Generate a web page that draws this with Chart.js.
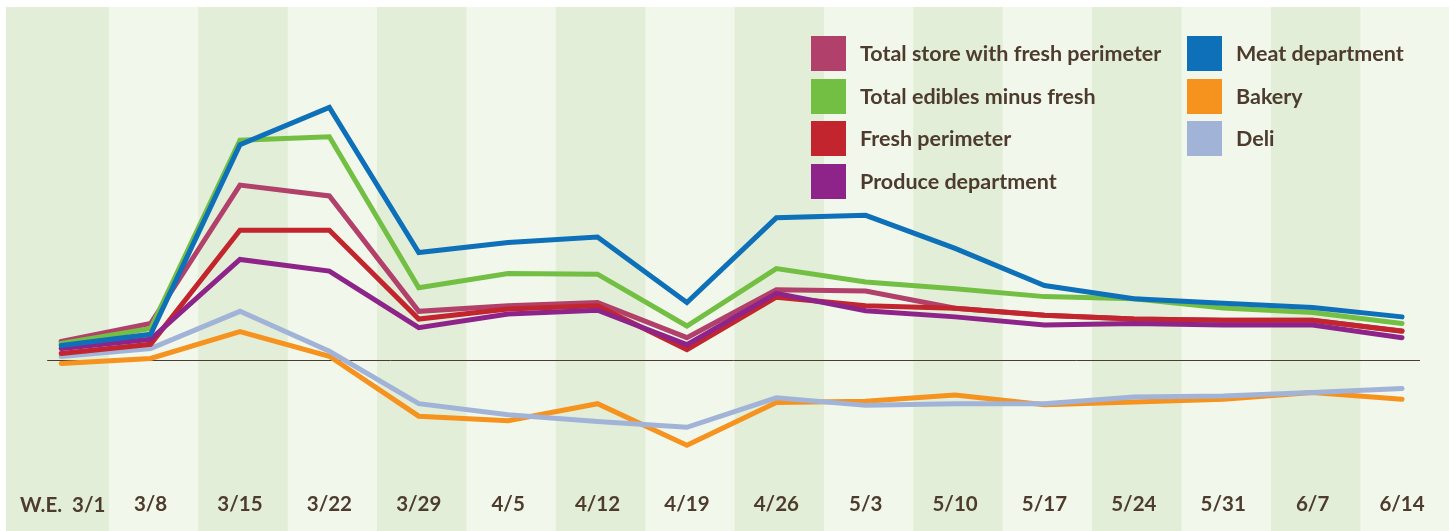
<!DOCTYPE html>
<html>
<head>
<meta charset="utf-8">
<title>Weekly sales change by department</title>
<script src="https://cdn.jsdelivr.net/npm/chart.js@4/dist/chart.umd.min.js"></script>
<style>
  html, body { margin: 0; padding: 0; background: #fff; }
  #wrap { position: relative; width: 1449px; height: 531px; overflow: hidden; }
  #chart { position: absolute; left: 0; top: 0; }
  .legend { position: absolute; top: 36px; font-family: Lato, 'Open Sans', sans-serif; font-weight: 700; font-size: 21.5px; color: #4d3c2e; }
  .item { position: relative; height: 42.5px; }
  .sw { position: absolute; left: 0; top: 0; width: 35px; height: 35px; }
  .txt { position: absolute; left: 49px; top: 0; line-height: 35px; white-space: nowrap; }
  #we { position: absolute; left: 20px; top: 492px; font-family: Lato, sans-serif; font-weight: 700; font-size: 20.5px; line-height: 24px; color: #4d3c2e; white-space: nowrap; }
  #we span + span { margin-left: 10px; }
</style>
</head>
<body>
<div id="wrap">
  <canvas id="chart" width="1449" height="531"></canvas>
  <div class="legend" id="legend1" style="left:811px"></div>
  <div class="legend" id="legend2" style="left:1187px"></div>
  <div id="we"><span>W.E.</span><span id="firstWeek"></span></div>
</div>
<script>
// week ending dates
const weeks = ['3/1', '3/8', '3/15', '3/22', '3/29', '4/5', '4/12', '4/19', '4/26', '5/3', '5/10', '5/17', '5/24', '5/31', '6/7', '6/14'];

// % change vs year ago
const totalStore   = [6.8, 13.3, 63.2, 59.3, 17.7, 19.7, 20.9, 8.2, 25.5, 25.0, 18.8, 16.3, 14.9, 14.5, 14.5, 10.6];
const totalEdibles = [6.1, 11.5, 79.4, 80.6, 26.2, 31.3, 31.1, 12.4, 33.1, 28.3, 25.8, 23.0, 22.2, 18.9, 17.3, 13.3];
const freshPerim   = [2.5, 5.8, 46.9, 46.9, 14.9, 18.5, 19.7, 3.9, 22.8, 19.7, 18.8, 16.3, 14.9, 14.5, 14.5, 10.5];
const produce      = [4.3, 7.6, 36.4, 32.2, 11.8, 16.7, 18.1, 5.7, 24.2, 17.9, 15.7, 12.8, 13.3, 12.8, 12.8, 8.2];
const meat         = [5.4, 9.4, 77.8, 91.2, 38.9, 42.5, 44.5, 20.9, 51.4, 52.3, 40.4, 27.0, 22.2, 20.6, 19.1, 15.7];
const bakery       = [-1.1, 0.7, 10.4, 1.5, -20.1, -21.7, -15.6, -30.6, -15.2, -14.7, -12.5, -16.0, -15.0, -14.0, -11.6, -14.0];
const deli         = [1.4, 4.3, 17.7, 3.3, -15.6, -19.6, -22.0, -24.1, -13.5, -16.2, -15.6, -15.6, -13.2, -12.8, -11.6, -10.1];

const textColor = '#4d3c2e';

function series(label, data, color, order, column) {
    return {
        label: label,
        data: data,
        borderColor: color,
        backgroundColor: color,
        borderWidth: 5,
        pointRadius: 0,
        tension: 0,
        borderCapStyle: 'round',
        borderJoinStyle: 'miter',
        order: order,
        column: column,
    };
}

const datasets = [
    series('Total store with fresh perimeter', totalStore, '#b1416a', 5, 1),
    series('Total edibles minus fresh', totalEdibles, '#73bf44', 4, 1),
    series('Fresh perimeter', freshPerim, '#c3252e', 3, 1),
    series('Produce department', produce, '#8e2489', 2, 1),
    series('Meat department', meat, '#0d70b8', 1, 2),
    series('Bakery', bakery, '#f6921e', 7, 2),
    series('Deli', deli, '#a1b4d8', 6, 2),
];

// alternating week bands and the zero line
const bandsPlugin = {
    id: 'bands',
    beforeDraw(chart) {
        const { ctx, chartArea, scales: { x } } = chart;
        const w = (chartArea.right - chartArea.left) / weeks.length;
        ctx.save();
        ctx.fillStyle = '#f1f7ea';
        ctx.fillRect(6, 7, chart.width - 6, chart.height - 7);
        ctx.fillStyle = '#e2eed8';
        weeks.forEach((wk, i) => {
            if (i % 2) return;
            let x0 = x.getPixelForValue(i) - w / 2 + 3;
            let x1 = x0 + w;
            if (i === 0) x0 = 6;
            ctx.fillRect(x0, 7, x1 - x0, chart.height - 7);
        });
        ctx.restore();
    },
    beforeDatasetsDraw(chart) {
        const { ctx, scales: { x, y } } = chart;
        const y0 = Math.round(y.getPixelForValue(0)) + 0.5;
        ctx.save();
        ctx.strokeStyle = textColor;
        ctx.lineWidth = 1;
        ctx.beginPath();
        ctx.moveTo(x.getPixelForValue(0) - 14, y0);
        ctx.lineTo(x.getPixelForValue(weeks.length - 1) + 18, y0);
        ctx.stroke();
        ctx.restore();
    }
};

const chart = new Chart(document.getElementById('chart'), {
    type: 'line',
    data: { labels: weeks, datasets: datasets },
    options: {
        responsive: false,
        animation: false,
        layout: { padding: { left: 16.5, right: 2.3, top: 83, bottom: -7 } },
        plugins: {
            legend: { display: false },
            tooltip: { enabled: false },
        },
        scales: {
            x: {
                offset: true,
                grid: { display: false, drawTicks: false },
                border: { display: false },
                ticks: {
                    color: textColor,
                    padding: 21,
                    maxRotation: 0,
                    autoSkip: false,
                    font: { family: 'Lato', weight: 'bold', size: 20.5 },
                    // first week sits next to the "W.E." caption instead
                    callback: (val, i) => i === 0 ? '' : weeks[i],
                },
            },
            y: {
                display: false,
                min: -40,
                max: 100,
            },
        },
    },
    plugins: [bandsPlugin],
});

document.getElementById('firstWeek').textContent = weeks[0];

// legend in two columns, built from the datasets
datasets.forEach(ds => {
    const item = document.createElement('div');
    item.className = 'item';
    const sw = document.createElement('div');
    sw.className = 'sw';
    sw.style.background = ds.borderColor;
    const txt = document.createElement('div');
    txt.className = 'txt';
    txt.textContent = ds.label;
    item.appendChild(sw);
    item.appendChild(txt);
    document.getElementById('legend' + ds.column).appendChild(item);
});
</script>
</body>
</html>
